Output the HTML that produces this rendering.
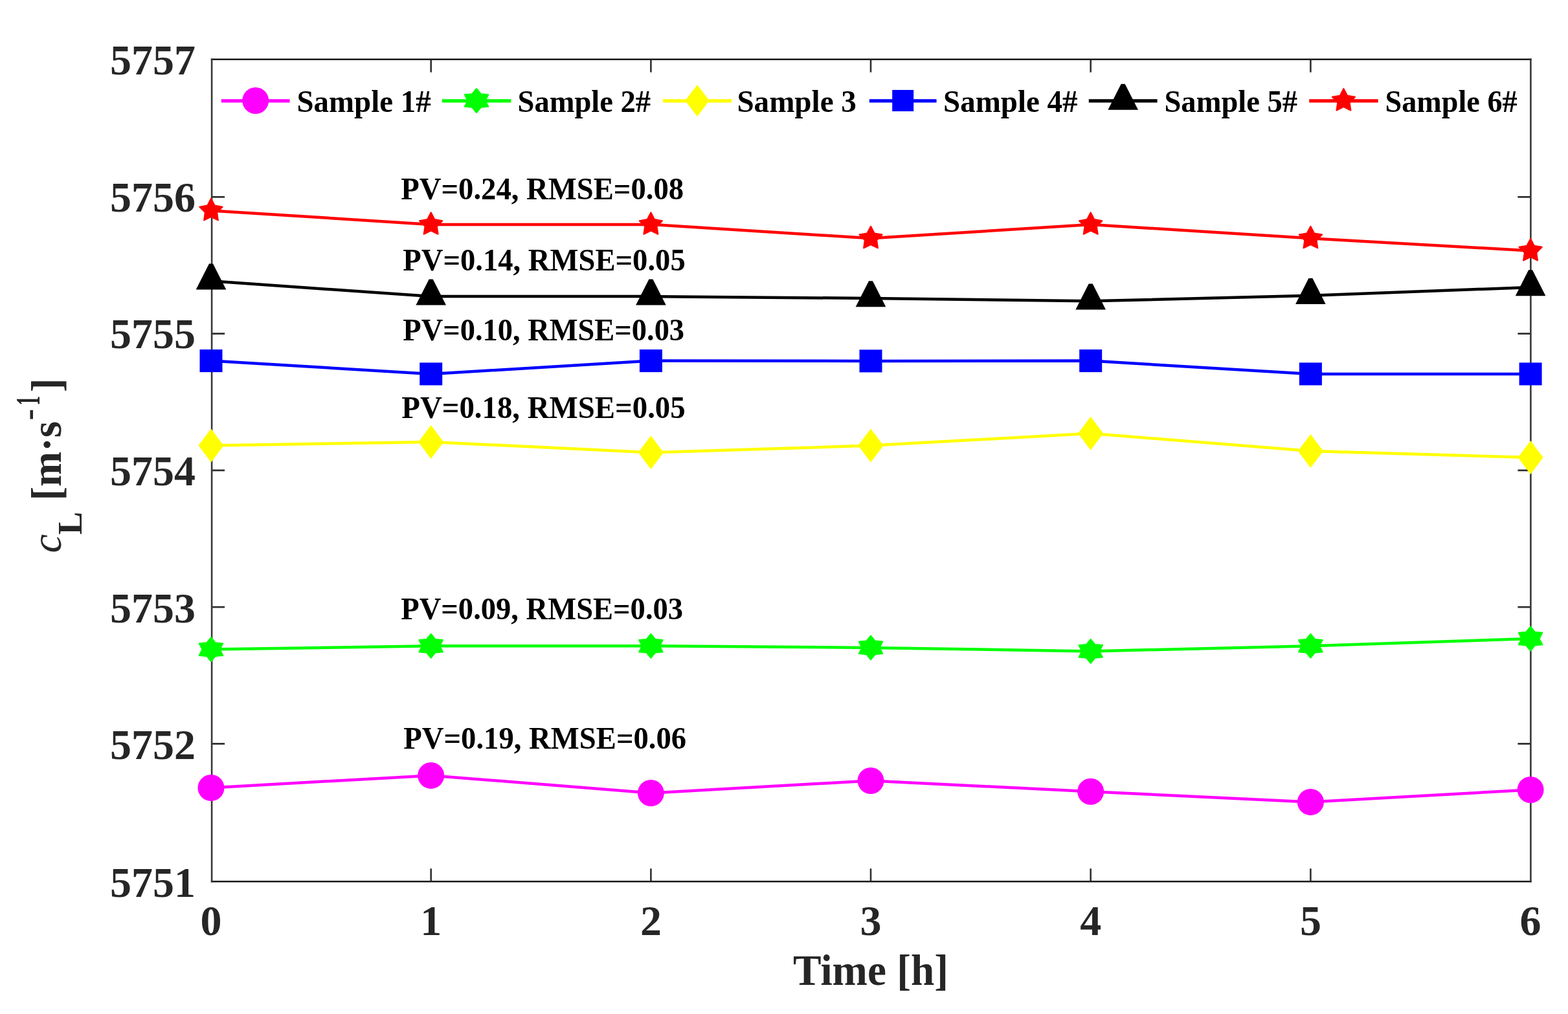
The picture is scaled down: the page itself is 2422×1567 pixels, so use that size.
<!DOCTYPE html>
<html><head><meta charset="utf-8"><title>Longitudinal wave velocity vs time</title>
<style>html,body{margin:0;padding:0;background:#fff;}svg{display:block;}</style>
</head><body>
<svg width="2422" height="1567" viewBox="0 0 2422 1567">
<rect x="0" y="0" width="2422" height="1567" fill="#fff"/>
<path d="M665.7 91.7V111.7M665.7 1362.3V1342.3M1005.4 91.7V111.7M1005.4 1362.3V1342.3M1345.0 91.7V111.7M1345.0 1362.3V1342.3M1684.7 91.7V111.7M1684.7 1362.3V1342.3M2024.4 91.7V111.7M2024.4 1362.3V1342.3M327.1 1149.4H347.1M2364.4 1149.4H2344.4M327.1 938.1H347.1M2364.4 938.1H2344.4M327.1 726.9H347.1M2364.4 726.9H2344.4M327.1 515.6H347.1M2364.4 515.6H2344.4M327.1 304.4H347.1M2364.4 304.4H2344.4" stroke="#303030" stroke-width="2.6" fill="none"/>
<path d="M327.1 91.7H2364.4M327.1 1362.3H2364.4" stroke="#1a1a1a" stroke-width="2.6" fill="none" stroke-linecap="square"/>
<path d="M327.1 91.7V1362.3M2364.4 91.7V1362.3" stroke="#383838" stroke-width="2.6" fill="none" stroke-linecap="square"/>
<g font-family="'Liberation Serif','Times New Roman',serif" font-weight="bold" font-size="66" fill="#262626">
<text x="302.1" y="1385.9" text-anchor="end">5751</text>
<text x="302.1" y="1173.0" text-anchor="end">5752</text>
<text x="302.1" y="962.1" text-anchor="end">5753</text>
<text x="302.1" y="750.2" text-anchor="end">5754</text>
<text x="302.1" y="538.4" text-anchor="end">5755</text>
<text x="302.1" y="327.4" text-anchor="end">5756</text>
<text x="302.1" y="114.7" text-anchor="end">5757</text>
<text x="326.0" y="1445" text-anchor="middle">0</text>
<text x="665.7" y="1445" text-anchor="middle">1</text>
<text x="1005.4" y="1445" text-anchor="middle">2</text>
<text x="1345.0" y="1445" text-anchor="middle">3</text>
<text x="1684.7" y="1445" text-anchor="middle">4</text>
<text x="2024.4" y="1445" text-anchor="middle">5</text>
<text x="2364.1" y="1445" text-anchor="middle">6</text>
</g>
<text font-family="'Liberation Serif','Times New Roman',serif" font-weight="bold" font-size="67" x="1225.1" y="1521.9" textLength="240.0" lengthAdjust="spacingAndGlyphs" fill="#262626">Time [h]</text>
<g transform="translate(93.5,853.6) rotate(-90)" fill="#262626">
<text x="-1" y="0" font-family="'Liberation Serif',serif" font-style="italic" font-size="65">c</text>
<text x="27.4" y="32.8" font-family="'Liberation Serif','Times New Roman',serif" font-weight="bold" font-size="53">L</text>
<text x="80" y="0" font-family="'Liberation Serif','Times New Roman',serif" font-weight="bold" font-size="65">[m&#183;s</text>
<text x="204" y="-33" font-family="'Liberation Serif','Times New Roman',serif" font-weight="bold" font-size="53">-</text>
<text transform="translate(234.3,-33) scale(0.56,1)" x="0" y="0" text-anchor="middle" font-family="'Liberation Serif','Times New Roman',serif" font-weight="bold" font-size="53">1</text>
<text x="247.5" y="0" font-family="'Liberation Serif','Times New Roman',serif" font-weight="bold" font-size="65">]</text>
</g>
<path d="M326.0 1217.4 L665.7 1198.4 L1005.4 1225.5 L1345.0 1206.5 L1684.7 1223.2 L2024.4 1239.4 L2364.1 1220.5" stroke="#ff00ff" stroke-width="4.5" fill="none" stroke-linejoin="round"/>
<circle cx="326.0" cy="1217.4" r="20.5" fill="#ff00ff"/>
<circle cx="665.7" cy="1198.4" r="20.5" fill="#ff00ff"/>
<circle cx="1005.4" cy="1225.5" r="20.5" fill="#ff00ff"/>
<circle cx="1345.0" cy="1206.5" r="20.5" fill="#ff00ff"/>
<circle cx="1684.7" cy="1223.2" r="20.5" fill="#ff00ff"/>
<circle cx="2024.4" cy="1239.4" r="20.5" fill="#ff00ff"/>
<circle cx="2364.1" cy="1220.5" r="20.5" fill="#ff00ff"/>
<path d="M326.0 1003.6 L665.7 998.2 L1005.4 998.2 L1345.0 1000.9 L1684.7 1006.4 L2024.4 998.2 L2364.1 987.0" stroke="#00ff00" stroke-width="4.5" fill="none" stroke-linejoin="round"/>
<polygon points="326.0,985.1 332.7,993.3 344.3,994.4 339.5,1003.6 344.3,1012.9 332.7,1013.9 326.0,1022.1 319.3,1013.9 307.7,1012.9 312.5,1003.6 307.7,994.4 319.3,993.3" fill="#00ff00" stroke="#00ff00" stroke-width="2.0" stroke-linejoin="round"/>
<polygon points="665.7,979.7 672.4,987.9 683.9,989.0 679.2,998.2 683.9,1007.5 672.4,1008.5 665.7,1016.7 658.9,1008.5 647.4,1007.5 652.2,998.2 647.4,989.0 658.9,987.9" fill="#00ff00" stroke="#00ff00" stroke-width="2.0" stroke-linejoin="round"/>
<polygon points="1005.4,979.7 1012.1,987.9 1023.6,989.0 1018.9,998.2 1023.6,1007.5 1012.1,1008.5 1005.4,1016.7 998.6,1008.5 987.1,1007.5 991.9,998.2 987.1,989.0 998.6,987.9" fill="#00ff00" stroke="#00ff00" stroke-width="2.0" stroke-linejoin="round"/>
<polygon points="1345.0,982.4 1351.8,990.6 1363.3,991.6 1358.5,1000.9 1363.3,1010.1 1351.8,1011.2 1345.0,1019.4 1338.3,1011.2 1326.8,1010.1 1331.5,1000.9 1326.8,991.6 1338.3,990.6" fill="#00ff00" stroke="#00ff00" stroke-width="2.0" stroke-linejoin="round"/>
<polygon points="1684.7,987.9 1691.5,996.1 1703.0,997.1 1698.2,1006.4 1703.0,1015.6 1691.5,1016.7 1684.7,1024.9 1678.0,1016.7 1666.5,1015.6 1671.2,1006.4 1666.5,997.1 1678.0,996.1" fill="#00ff00" stroke="#00ff00" stroke-width="2.0" stroke-linejoin="round"/>
<polygon points="2024.4,979.7 2031.1,987.9 2042.7,989.0 2037.9,998.2 2042.7,1007.5 2031.1,1008.5 2024.4,1016.7 2017.7,1008.5 2006.1,1007.5 2010.9,998.2 2006.1,989.0 2017.7,987.9" fill="#00ff00" stroke="#00ff00" stroke-width="2.0" stroke-linejoin="round"/>
<polygon points="2364.1,968.5 2370.8,976.7 2382.3,977.8 2377.6,987.0 2382.3,996.2 2370.8,997.3 2364.1,1005.5 2357.3,997.3 2345.8,996.2 2350.6,987.0 2345.8,977.8 2357.3,976.7" fill="#00ff00" stroke="#00ff00" stroke-width="2.0" stroke-linejoin="round"/>
<path d="M326.0 688.6 L665.7 682.9 L1005.4 699.3 L1345.0 688.6 L1684.7 669.8 L2024.4 697.1 L2364.1 707.0" stroke="#ffff00" stroke-width="4.5" fill="none" stroke-linejoin="round"/>
<polygon points="326.0,662.6 345.5,688.6 326.0,714.6 306.5,688.6" fill="#ffff00"/>
<polygon points="665.7,656.9 685.2,682.9 665.7,708.9 646.2,682.9" fill="#ffff00"/>
<polygon points="1005.4,673.3 1024.9,699.3 1005.4,725.3 985.9,699.3" fill="#ffff00"/>
<polygon points="1345.0,662.6 1364.5,688.6 1345.0,714.6 1325.5,688.6" fill="#ffff00"/>
<polygon points="1684.7,643.8 1704.2,669.8 1684.7,695.8 1665.2,669.8" fill="#ffff00"/>
<polygon points="2024.4,671.1 2043.9,697.1 2024.4,723.1 2004.9,697.1" fill="#ffff00"/>
<polygon points="2364.1,681.0 2383.6,707.0 2364.1,733.0 2344.6,707.0" fill="#ffff00"/>
<path d="M326.0 557.6 L665.7 577.9 L1005.4 557.6 L1345.0 557.9 L1684.7 557.6 L2024.4 577.9 L2364.1 577.9" stroke="#0000ff" stroke-width="4.5" fill="none" stroke-linejoin="round"/>
<rect x="308.5" y="540.1" width="35" height="35" fill="#0000ff"/>
<rect x="648.2" y="560.4" width="35" height="35" fill="#0000ff"/>
<rect x="987.9" y="540.1" width="35" height="35" fill="#0000ff"/>
<rect x="1327.5" y="540.4" width="35" height="35" fill="#0000ff"/>
<rect x="1667.2" y="540.1" width="35" height="35" fill="#0000ff"/>
<rect x="2006.9" y="560.4" width="35" height="35" fill="#0000ff"/>
<rect x="2346.6" y="560.4" width="35" height="35" fill="#0000ff"/>
<path d="M326.0 434.2 L665.7 458.1 L1005.4 458.1 L1345.0 461.0 L1684.7 465.3 L2024.4 456.7 L2364.1 444.0" stroke="#000000" stroke-width="4.5" fill="none" stroke-linejoin="round"/>
<polygon points="323.0,407.5 329.0,407.5 349.3,447.5 302.7,447.5" fill="#000000"/>
<polygon points="662.7,431.4 668.7,431.4 689.0,471.4 642.4,471.4" fill="#000000"/>
<polygon points="1002.4,431.4 1008.4,431.4 1028.7,471.4 982.1,471.4" fill="#000000"/>
<polygon points="1342.0,434.3 1348.0,434.3 1368.3,474.3 1321.7,474.3" fill="#000000"/>
<polygon points="1681.7,438.6 1687.7,438.6 1708.0,478.6 1661.4,478.6" fill="#000000"/>
<polygon points="2021.4,430.0 2027.4,430.0 2047.7,470.0 2001.1,470.0" fill="#000000"/>
<polygon points="2361.1,417.3 2367.1,417.3 2387.4,457.3 2340.8,457.3" fill="#000000"/>
<path d="M326.0 325.4 L665.7 346.9 L1005.4 346.9 L1345.0 368.3 L1684.7 346.9 L2024.4 368.3 L2364.1 387.5" stroke="#ff0000" stroke-width="4.5" fill="none" stroke-linejoin="round"/>
<polygon points="326.0,306.8 331.7,317.6 343.7,319.7 335.2,328.4 336.9,340.4 326.0,335.1 315.1,340.4 316.8,328.4 308.3,319.7 320.3,317.6" fill="#ff0000" stroke="#ff0000" stroke-width="2.0" stroke-linejoin="round"/>
<polygon points="665.7,328.3 671.4,339.1 683.4,341.2 674.9,349.9 676.6,361.9 665.7,356.6 654.7,361.9 656.5,349.9 648.0,341.2 660.0,339.1" fill="#ff0000" stroke="#ff0000" stroke-width="2.0" stroke-linejoin="round"/>
<polygon points="1005.4,328.3 1011.0,339.1 1023.0,341.2 1014.6,349.9 1016.3,361.9 1005.4,356.6 994.4,361.9 996.2,349.9 987.7,341.2 999.7,339.1" fill="#ff0000" stroke="#ff0000" stroke-width="2.0" stroke-linejoin="round"/>
<polygon points="1345.0,349.7 1350.7,360.5 1362.7,362.6 1354.2,371.3 1356.0,383.3 1345.0,378.0 1334.1,383.3 1335.8,371.3 1327.4,362.6 1339.4,360.5" fill="#ff0000" stroke="#ff0000" stroke-width="2.0" stroke-linejoin="round"/>
<polygon points="1684.7,328.3 1690.4,339.1 1702.4,341.2 1693.9,349.9 1695.7,361.9 1684.7,356.6 1673.8,361.9 1675.5,349.9 1667.0,341.2 1679.0,339.1" fill="#ff0000" stroke="#ff0000" stroke-width="2.0" stroke-linejoin="round"/>
<polygon points="2024.4,349.7 2030.1,360.5 2042.1,362.6 2033.6,371.3 2035.3,383.3 2024.4,378.0 2013.5,383.3 2015.2,371.3 2006.7,362.6 2018.7,360.5" fill="#ff0000" stroke="#ff0000" stroke-width="2.0" stroke-linejoin="round"/>
<polygon points="2364.1,368.9 2369.8,379.7 2381.8,381.8 2373.3,390.5 2375.0,402.5 2364.1,397.2 2353.1,402.5 2354.9,390.5 2346.4,381.8 2358.4,379.7" fill="#ff0000" stroke="#ff0000" stroke-width="2.0" stroke-linejoin="round"/>
<path d="M341.8 155.8H447.6" stroke="#ff00ff" stroke-width="5.2" fill="none"/>
<circle cx="394.7" cy="155.5" r="20.5" fill="#ff00ff"/>
<text font-family="'Liberation Serif','Times New Roman',serif" font-weight="bold" font-size="48" x="458.5" y="173.0" textLength="207.1" lengthAdjust="spacingAndGlyphs" fill="#000">Sample 1#</text>
<path d="M682.8 155.8H789.3" stroke="#00ff00" stroke-width="5.2" fill="none"/>
<polygon points="736.0,137.0 742.8,145.2 754.3,146.2 749.5,155.5 754.3,164.8 742.8,165.8 736.0,174.0 729.3,165.8 717.8,164.8 722.6,155.5 717.8,146.2 729.3,145.2" fill="#00ff00" stroke="#00ff00" stroke-width="2.0" stroke-linejoin="round"/>
<text font-family="'Liberation Serif','Times New Roman',serif" font-weight="bold" font-size="48" x="799.6" y="173.0" textLength="205.5" lengthAdjust="spacingAndGlyphs" fill="#000">Sample 2#</text>
<path d="M1024.1 155.8H1130.0" stroke="#ffff00" stroke-width="5.2" fill="none"/>
<polygon points="1077.0,131.0 1095.8,155.5 1077.0,180.0 1058.3,155.5" fill="#ffff00"/>
<text font-family="'Liberation Serif','Times New Roman',serif" font-weight="bold" font-size="48" x="1138.4" y="173.0" textLength="184.5" lengthAdjust="spacingAndGlyphs" fill="#000">Sample 3</text>
<path d="M1342.8 155.8H1446.6" stroke="#0000ff" stroke-width="5.2" fill="none"/>
<rect x="1378.2" y="139.0" width="33" height="33" fill="#0000ff"/>
<text font-family="'Liberation Serif','Times New Roman',serif" font-weight="bold" font-size="48" x="1457.0" y="173.0" textLength="207.6" lengthAdjust="spacingAndGlyphs" fill="#000">Sample 4#</text>
<path d="M1681.8 155.8H1787.6" stroke="#000000" stroke-width="5.2" fill="none"/>
<polygon points="1731.7,129.8 1737.7,129.8 1758.0,169.8 1711.4,169.8" fill="#000000"/>
<text font-family="'Liberation Serif','Times New Roman',serif" font-weight="bold" font-size="48" x="1798.5" y="173.0" textLength="205.5" lengthAdjust="spacingAndGlyphs" fill="#000">Sample 5#</text>
<path d="M2022.2 155.8H2128.7" stroke="#ff0000" stroke-width="5.2" fill="none"/>
<polygon points="2075.4,136.9 2081.1,147.7 2093.1,149.8 2084.6,158.5 2086.4,170.5 2075.4,165.2 2064.5,170.5 2066.3,158.5 2057.8,149.8 2069.8,147.7" fill="#ff0000" stroke="#ff0000" stroke-width="2.0" stroke-linejoin="round"/>
<text font-family="'Liberation Serif','Times New Roman',serif" font-weight="bold" font-size="48" x="2139.6" y="173.0" textLength="204.0" lengthAdjust="spacingAndGlyphs" fill="#000">Sample 6#</text>
<text font-family="'Liberation Serif','Times New Roman',serif" font-weight="bold" font-size="48.5" x="619.3" y="308.4" textLength="436.8" lengthAdjust="spacingAndGlyphs" fill="#000">PV=0.24, RMSE=0.08</text>
<text font-family="'Liberation Serif','Times New Roman',serif" font-weight="bold" font-size="48.5" x="622.3" y="417.6" textLength="436.4" lengthAdjust="spacingAndGlyphs" fill="#000">PV=0.14, RMSE=0.05</text>
<text font-family="'Liberation Serif','Times New Roman',serif" font-weight="bold" font-size="48.5" x="622.3" y="526.0" textLength="434.8" lengthAdjust="spacingAndGlyphs" fill="#000">PV=0.10, RMSE=0.03</text>
<text font-family="'Liberation Serif','Times New Roman',serif" font-weight="bold" font-size="48.5" x="620.3" y="646.4" textLength="438.4" lengthAdjust="spacingAndGlyphs" fill="#000">PV=0.18, RMSE=0.05</text>
<text font-family="'Liberation Serif','Times New Roman',serif" font-weight="bold" font-size="48.5" x="619.3" y="957.0" textLength="435.8" lengthAdjust="spacingAndGlyphs" fill="#000">PV=0.09, RMSE=0.03</text>
<text font-family="'Liberation Serif','Times New Roman',serif" font-weight="bold" font-size="48.5" x="623.3" y="1157.4" textLength="436.9" lengthAdjust="spacingAndGlyphs" fill="#000">PV=0.19, RMSE=0.06</text>
</svg>
</body></html>
